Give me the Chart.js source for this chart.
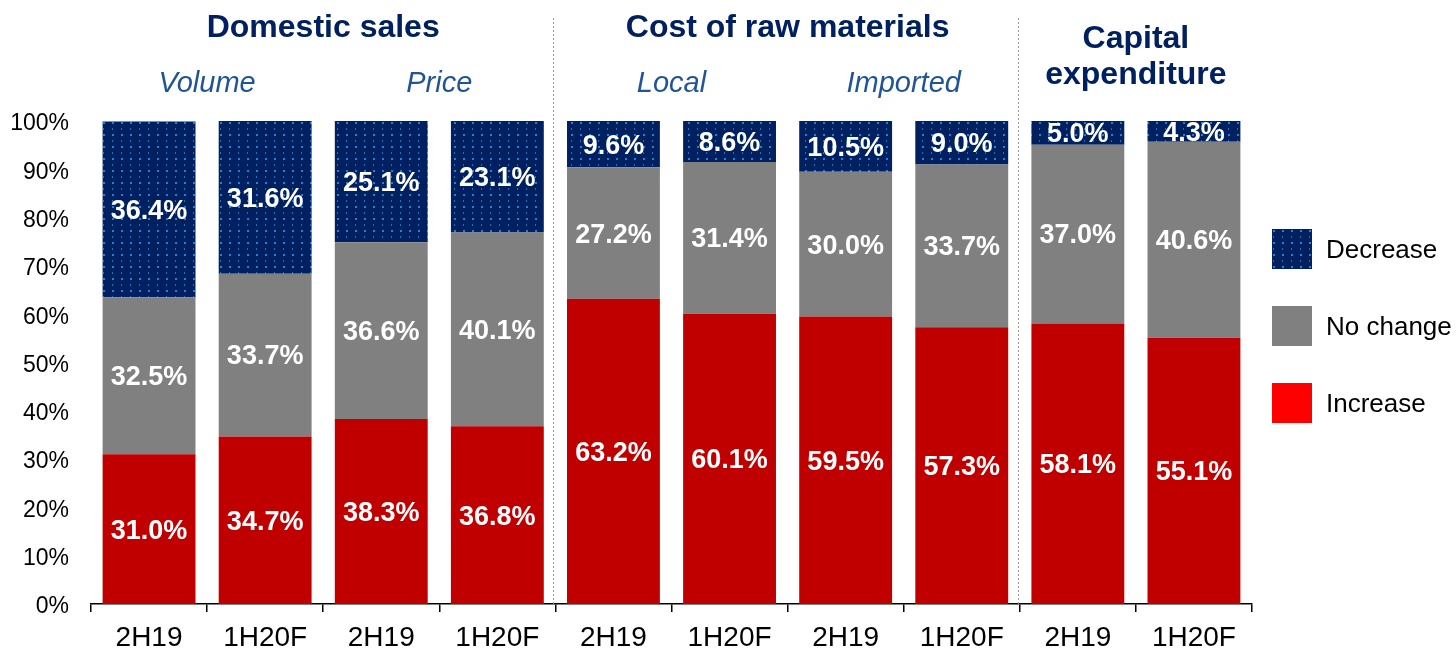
<!DOCTYPE html>
<html>
<head>
<meta charset="utf-8">
<script src="https://cdn.jsdelivr.net/npm/chart.js@4/dist/chart.umd.min.js"></script>
<style>
  html, body { margin: 0; padding: 0; background: #fff; }
  #wrap { width: 1456px; height: 651px; position: relative; }
</style>
</head>
<body>
<div id="wrap"><canvas id="c"></canvas></div>
<script>
// ---- data ----
const categories = ['2H19', '1H20F', '2H19', '1H20F', '2H19', '1H20F', '2H19', '1H20F', '2H19', '1H20F'];
const increase   = [31.0, 34.7, 38.3, 36.8, 63.2, 60.1, 59.5, 57.3, 58.1, 55.1];
const noChange   = [32.5, 33.7, 36.6, 40.1, 27.2, 31.4, 30.0, 33.7, 37.0, 40.6];
const decrease   = [36.4, 31.6, 25.1, 23.1, 9.6, 8.6, 10.5, 9.0, 5.0, 4.3];
const seriesNames = ['Increase', 'No change', 'Decrease'];
const yTickValues = [0, 10, 20, 30, 40, 50, 60, 70, 80, 90, 100];
const groupTitles = [['Domestic sales'], ['Cost of raw materials'], ['Capital', 'expenditure']];
const groupSpans  = [[0, 3], [4, 7], [8, 9]];
const subTitles   = ['Volume', 'Price', 'Local', 'Imported'];
const subSpans    = [[0, 1], [2, 3], [4, 5], [6, 7]];
const separatorsAfter = [3, 7];

// ---- styles ----
const FONT = '"Liberation Sans", Arial, sans-serif';
const RED = '#C00000', GREY = '#808080', NAVY = '#002060';

function makePattern() {
  const t = document.createElement('canvas');
  t.width = 9; t.height = 12;
  const g = t.getContext('2d');
  g.fillStyle = NAVY; g.fillRect(0, 0, 9, 12);
  g.fillStyle = '#1C82DA'; g.fillRect(4, 2, 2, 2);
  g.fillStyle = '#1F6FB8'; g.fillRect(4, 8, 1, 2);
  return g.createPattern(t, 'repeat');
}
const ctx0 = document.getElementById('c').getContext('2d');
const pattern = makePattern();

const overlay = {
  id: 'overlay',
  afterDatasetsDraw(chart) {
    const { ctx } = chart;
    ctx.save();
    ctx.fillStyle = '#fff';
    ctx.font = 'bold 27px ' + FONT;
    ctx.textAlign = 'center';
    ctx.textBaseline = 'middle';
    chart.data.datasets.forEach((ds, di) => {
      const meta = chart.getDatasetMeta(di);
      meta.data.forEach((el, i) => {
        const v = ds.data[i];
        ctx.fillText(v.toFixed(1) + '%', el.x, (el.y + el.base) / 2 + 2);
      });
    });
    ctx.restore();
  },
  afterDraw(chart) {
    const { ctx, chartArea } = chart;
    const xs = chart.scales.x;
    const half = (xs.getPixelForValue(1) - xs.getPixelForValue(0)) / 2;
    ctx.save();
    // separators
    ctx.strokeStyle = '#9a9a9a';
    ctx.lineWidth = 1;
    ctx.setLineDash([2, 2]);
    separatorsAfter.forEach(i => {
      const x = Math.round(xs.getPixelForValue(i) + half) - 1.5;
      ctx.beginPath(); ctx.moveTo(x, 18); ctx.lineTo(x, chartArea.bottom); ctx.stroke();
    });
    ctx.setLineDash([]);
    // group titles
    ctx.fillStyle = NAVY;
    ctx.font = 'bold 32px ' + FONT;
    ctx.textAlign = 'center';
    ctx.textBaseline = 'middle';
    groupTitles.forEach((lines, gi) => {
      const [a, b] = groupSpans[gi];
      const cx = (xs.getPixelForValue(a) + xs.getPixelForValue(b)) / 2;
      if (lines.length === 1) {
        ctx.fillText(lines[0], cx, 28);
      } else {
        lines.forEach((ln, li) => ctx.fillText(ln, cx, 39 + li * 36));
      }
    });
    // subtitles
    ctx.fillStyle = '#1F5596';
    ctx.font = 'italic 29px ' + FONT;
    subTitles.forEach((s, si) => {
      const [a, b] = subSpans[si];
      const cx = (xs.getPixelForValue(a) + xs.getPixelForValue(b)) / 2;
      ctx.fillText(s, cx, 84);
    });
    // legend
    const legendItems = [
      { name: seriesNames[2], fill: pattern },
      { name: seriesNames[1], fill: GREY },
      { name: seriesNames[0], fill: '#FF0000' }
    ];
    ctx.textAlign = 'left';
    ctx.font = '26px ' + FONT;
    legendItems.forEach((it, i) => {
      const cy = 248.5 + i * 77;
      ctx.fillStyle = it.fill;
      ctx.fillRect(1272, Math.round(cy - 20), 40, 40);
      ctx.fillStyle = '#000';
      ctx.fillText(it.name, 1326, cy + 2);
    });
    ctx.restore();
  }
};

new Chart(ctx0, {
  type: 'bar',
  data: {
    labels: categories,
    datasets: [
      { label: seriesNames[0], data: increase, backgroundColor: RED },
      { label: seriesNames[1], data: noChange, backgroundColor: GREY },
      { label: seriesNames[2], data: decrease, backgroundColor: pattern }
    ]
  },
  options: {
    responsive: true,
    maintainAspectRatio: false,
    animation: false,
    devicePixelRatio: 1,
    layout: { padding: { top: 121, right: 204, left: 0, bottom: 0 } },
    datasets: { bar: { categoryPercentage: 1, barPercentage: 0.8, borderWidth: 0 } },
    plugins: { legend: { display: false }, tooltip: { enabled: false } },
    scales: {
      x: {
        stacked: true,
        offset: true,
        grid: { display: true, drawOnChartArea: false, drawTicks: true, tickLength: 8, color: '#000', lineWidth: 1.5, offset: true },
        border: { display: true, color: '#000', width: 1.5 },
        ticks: { color: '#000', font: { family: FONT, size: 28 }, padding: 9, maxRotation: 0, autoSkip: false },
        afterFit(s) { s.height = 47; }
      },
      y: {
        stacked: true,
        min: 0, max: 100,
        afterBuildTicks(s) { s.ticks = yTickValues.map(v => ({ value: v })); },
        grid: { display: false, drawTicks: false },
        border: { display: false },
        ticks: { color: '#000', font: { family: FONT, size: 23 }, padding: 22, labelOffset: 3, callback: v => v + '%' },
        afterFit(s) { s.width = 91; }
      }
    }
  },
  plugins: [overlay]
});
</script>
</body>
</html>
